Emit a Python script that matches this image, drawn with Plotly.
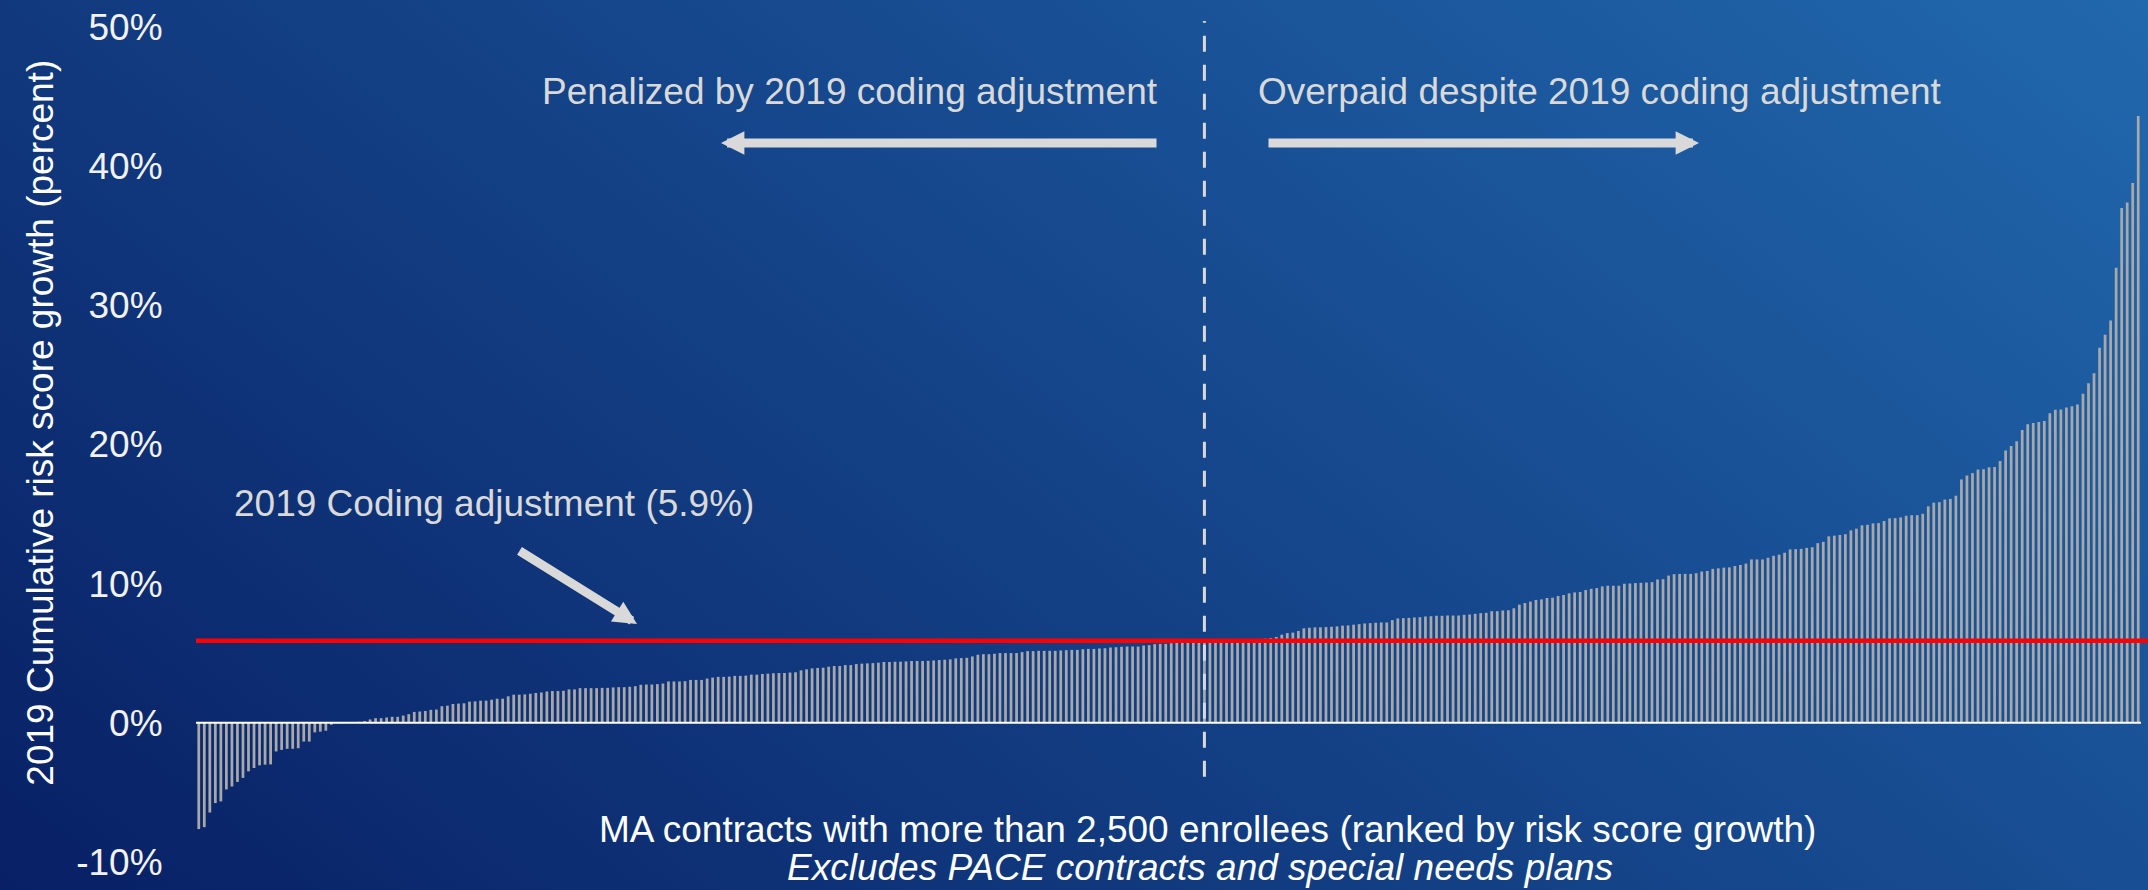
import base64
import plotly.graph_objects as go

# ---------------- data ----------------
RISK_GROWTH_PCT = [
    # ranked contracts, lowest to highest cumulative risk score growth (%)
    -7.64, -7.50, -6.45, -5.77, -5.65, -4.79, -4.58, -4.25, -3.96, -3.49,
    -3.25, -3.06, -3.01, -2.99, -2.06, -1.95, -1.87, -1.87, -1.83, -1.35,
    -1.35, -0.69, -0.64, -0.57, -0.14, -0.03, -0.02, 0.01, 0.03,
    0.07, 0.12, 0.24, 0.33, 0.33, 0.38, 0.43, 0.43, 0.52, 0.62,
    0.78, 0.81, 0.85, 0.93, 0.95, 1.19, 1.23, 1.35, 1.38, 1.40,
    1.52, 1.54, 1.59, 1.59, 1.66, 1.73, 1.73, 1.90, 2.02, 2.02,
    2.04, 2.09, 2.14, 2.18, 2.25, 2.28, 2.28, 2.30, 2.40, 2.40,
    2.49, 2.49, 2.49, 2.49, 2.51, 2.51, 2.54, 2.56, 2.56, 2.59,
    2.63, 2.73, 2.75, 2.75, 2.78, 2.82, 2.97, 2.97, 2.97, 2.99,
    3.08, 3.08, 3.08, 3.18, 3.25, 3.30, 3.30, 3.32, 3.37, 3.37,
    3.39, 3.46, 3.46, 3.51, 3.53, 3.56, 3.58, 3.58, 3.61, 3.63,
    3.77, 3.84, 3.91, 3.94, 3.96, 4.03, 4.08, 4.08, 4.15, 4.15,
    4.22, 4.25, 4.27, 4.29, 4.32, 4.37, 4.37, 4.39, 4.39, 4.41,
    4.44, 4.44, 4.44, 4.46, 4.48, 4.51, 4.53, 4.56, 4.63, 4.65,
    4.67, 4.77, 4.89, 4.93, 4.93, 4.96, 5.01, 5.01, 5.01, 5.01,
    5.08, 5.15, 5.15, 5.17, 5.17, 5.17, 5.17, 5.20, 5.22, 5.24,
    5.24, 5.29, 5.31, 5.31, 5.34, 5.36, 5.41, 5.43, 5.46, 5.48,
    5.48, 5.48, 5.55, 5.58, 5.65, 5.67, 5.67, 5.72, 5.77, 5.79,
    5.81, 5.84, 5.86, 5.88,
    5.92, 5.93, 5.94, 5.95, 5.96, 5.97, 5.98, 6.00, 6.00, 6.02,
    6.05, 6.10, 6.17, 6.33, 6.45, 6.48, 6.60, 6.79, 6.83, 6.86,
    6.86, 6.88, 6.90, 6.93, 6.98, 7.00, 7.05, 7.09, 7.14, 7.16,
    7.19, 7.21, 7.21, 7.38, 7.50, 7.52, 7.54, 7.57, 7.59, 7.64,
    7.66, 7.69, 7.69, 7.71, 7.71, 7.71, 7.76, 7.78, 7.83, 7.88,
    7.90, 8.02, 8.02, 8.07, 8.09, 8.23, 8.49, 8.61, 8.71, 8.83,
    8.87, 8.97, 8.99, 9.11, 9.18, 9.30, 9.37, 9.40, 9.54, 9.63,
    9.68, 9.80, 9.85, 9.85, 9.85, 9.99, 10.01, 10.04, 10.06, 10.08,
    10.11, 10.30, 10.32, 10.58, 10.68, 10.70, 10.70, 10.70, 10.75,
    10.87, 10.91, 11.06, 11.10, 11.15, 11.17, 11.27, 11.34, 11.44, 11.74,
    11.74, 11.74, 11.86, 12.00, 12.08, 12.22, 12.46, 12.48, 12.50, 12.57,
    12.62, 12.91, 13.00, 13.40, 13.45, 13.50, 13.55, 13.83, 13.95, 14.19,
    14.23, 14.33, 14.35, 14.50, 14.69, 14.71, 14.76, 14.88, 14.92, 14.92,
    15.02, 15.56, 15.82, 15.85, 16.04, 16.09, 16.32, 17.49, 17.77, 17.94,
    18.20, 18.22, 18.36, 18.39, 18.81, 19.57, 19.90, 20.24, 21.04, 21.45,
    21.54, 21.61, 21.68, 22.25, 22.49, 22.51, 22.66, 22.75, 22.87, 23.65,
    24.41, 25.12, 26.95, 27.88, 28.92, 32.70, 37.00, 37.40, 38.80, 43.60,
]
CONTRACT_RANK = list(range(1, len(RISK_GROWTH_PCT) + 1))
CODING_ADJUSTMENT_PCT = 5.9
DIVIDER_RANK = 183          # first contract at/above the coding adjustment

Y_TICKS = [-10, 0, 10, 20, 30, 40, 50]
Y_TICK_LABELS = ["-10%", "0%", "10%", "20%", "30%", "40%", "50%"]
Y_RANGE = [-10.005, 50.005]

Y_TITLE = "2019 Cumulative risk score growth (percent)"
X_TITLE = "MA contracts with more than 2,500 enrollees (ranked by risk score growth)"
X_SUBTITLE = "Excludes PACE contracts and special needs plans"
LEFT_LABEL = "Penalized by 2019 coding adjustment"
RIGHT_LABEL = "Overpaid despite 2019 coding adjustment"
ADJ_LABEL = "2019 Coding adjustment (5.9%)"

# ---------------- layout geometry ----------------
W, H = 2148, 890
ML, MR, MT, MB = 196, 7, 20, 28
PW, PH = W - ML - MR, H - MT - MB
X_RANGE = [0.5, len(RISK_GROWTH_PCT) + 0.5]


def px(x):
    return (x - ML) / PW


def py(y):
    return (MT + PH - y) / PH


def yval(v):
    return (v - Y_RANGE[0]) / (Y_RANGE[1] - Y_RANGE[0])


def xval(v):
    return (v - X_RANGE[0]) / (X_RANGE[1] - X_RANGE[0])


FONT = "Arial, 'Liberation Sans', sans-serif"
LIGHT = "#D9D9D9"

fig = go.Figure()
fig.add_trace(go.Bar(
    x=CONTRACT_RANK, y=RISK_GROWTH_PCT,
    marker=dict(color="#A8A8A8", line=dict(width=0)),
    hoverinfo="skip",
))

svg = (
    "<svg xmlns='http://www.w3.org/2000/svg' width='2148' height='890'>"
    "<defs><linearGradient id='g' x1='0' y1='1' x2='1.193' y2='0.358'>"
    "<stop offset='0' stop-color='#081F64'/>"
    "<stop offset='1' stop-color='#2168AD'/>"
    "</linearGradient></defs>"
    "<rect width='2148' height='890' fill='url(#g)'/></svg>"
)
bg_src = "data:image/svg+xml;base64," + base64.b64encode(svg.encode()).decode()

shapes = [
    # zero line
    dict(type="line", xref="paper", yref="paper", x0=0, x1=1,
         y0=yval(0), y1=yval(0), line=dict(color="white", width=2), layer="above"),
    # coding adjustment line
    dict(type="line", xref="paper", yref="paper", x0=0, x1=px(W),
         y0=yval(CODING_ADJUSTMENT_PCT), y1=yval(CODING_ADJUSTMENT_PCT),
         line=dict(color="#FF0000", width=4.5), layer="above"),
    # divider
    dict(type="line", xref="paper", yref="paper",
         x0=xval(DIVIDER_RANK), x1=xval(DIVIDER_RANK), y0=py(776), y1=py(14),
         line=dict(color=LIGHT, width=3, dash="16px,13px"), layer="above"),
]

txt = dict(family=FONT, size=37, color=LIGHT)
pp = dict(xref="paper", yref="paper", showarrow=False)
annotations = [
    dict(pp, text=LEFT_LABEL, x=px(1160), y=py(85), xanchor="right", yanchor="middle",
         font=txt),
    dict(pp, text=RIGHT_LABEL, x=px(1256), y=py(85), xanchor="left", yanchor="middle",
         font=txt),
    dict(pp, text=ADJ_LABEL, x=px(232), y=py(500), xanchor="left", yanchor="middle",
         font=txt),
    dict(pp, text=Y_TITLE, x=px(41), y=py(419), xanchor="center", yanchor="middle",
         textangle=-90, font=dict(family=FONT, size=37, color="white")),
    dict(pp, text=X_TITLE, x=px(1207), y=py(829), xanchor="center", yanchor="middle",
         font=dict(family=FONT, size=37, color="white")),
    dict(pp, text="<i>" + X_SUBTITLE + "</i>", x=px(1200), y=py(868), xanchor="center",
         yanchor="middle", font=dict(family=FONT, size=37, color="white")),
]
arrow = dict(text="", showarrow=True, arrowhead=2, arrowsize=0.52, arrowwidth=9,
             arrowcolor=LIGHT, xref="paper", yref="paper", axref="pixel", ayref="pixel")
annotations += [
    dict(arrow, x=px(721), y=py(137), ax=437, ay=0),
    dict(arrow, x=px(1699), y=py(137), ax=-432, ay=0),
    dict(arrow, x=px(637), y=py(622), ax=-119, ay=-74),
]

fig.update_layout(
    width=W, height=H, autosize=False,
    margin=dict(l=ML, r=MR, t=MT, b=MB, pad=0),
    paper_bgcolor="#113A84", plot_bgcolor="rgba(0,0,0,0)",
    showlegend=False, bargap=0.5,
    font=dict(family=FONT, color="white"),
    images=[dict(source=bg_src, xref="paper", yref="paper", x=px(-12), y=py(-12),
                 sizex=(W + 24) / PW, sizey=(H + 24) / PH, xanchor="left",
                 yanchor="top", sizing="stretch", layer="below")],
    shapes=shapes, annotations=annotations,
    xaxis=dict(range=X_RANGE, showgrid=False, zeroline=False, showline=False,
               showticklabels=False, ticks="", fixedrange=True),
    yaxis=dict(range=Y_RANGE, tickvals=Y_TICKS, ticktext=Y_TICK_LABELS,
               showgrid=False, zeroline=False, showline=False,
               ticks="outside", ticklen=25, tickcolor="rgba(0,0,0,0)",
               tickfont=dict(family=FONT, size=37, color="#F2F2F2"), fixedrange=True),
)

fig.write_html(
    "out.html",
    config={"displayModeBar": False, "staticPlot": True},
    post_script="document.body.style.margin='0px';document.body.style.overflow='hidden';",
)
